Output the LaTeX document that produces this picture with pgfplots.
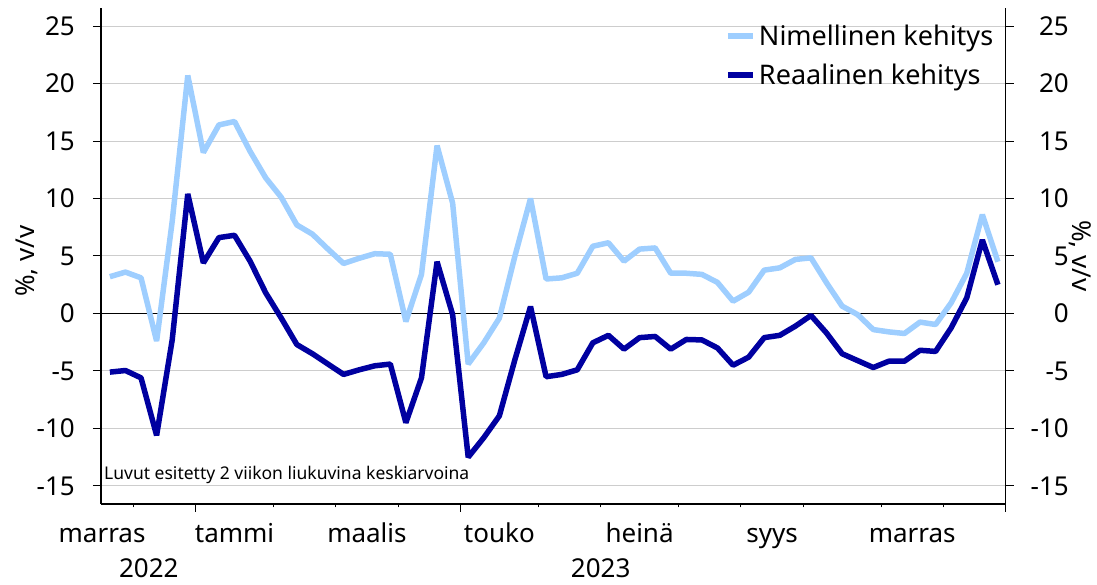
\documentclass[border=0pt]{standalone}
\usepackage{fontspec}
\setmainfont{Noto Sans}
\usepackage{pgfplots}
\pgfplotsset{compat=1.18}
\definecolor{nim}{RGB}{158,206,255}
\definecolor{real}{RGB}{0,0,160}
\definecolor{gridc}{RGB}{205,205,205}
\newcommand{\tickfont}{\fontsize{26}{30}\selectfont}
\begin{document}
\begin{tikzpicture}
\useasboundingbox (-101pt,-81pt) rectangle (996pt,504pt);
% grid + left y axis
\begin{axis}[
  scale only axis, width=904.7pt, height=496pt,
  xmin=-2.07, xmax=56, ymin=-16.57, ymax=26.57,
  axis x line=none, axis y line*=left,
  axis line style={line width=1.3pt, black},
  tick align=outside, major tick length=8pt,
  tick style={black, line width=1pt},
  ytick={-15,-10,...,25},
  yticklabels={-15,-10,-5,0,5,10,15,20,25},
  yticklabel style={anchor=east, inner sep=0pt, xshift=-18pt, font=\tickfont},
  ymajorgrids, grid style={gridc, line width=1pt},
  extra y ticks={0}, extra y tick labels={},
  extra y tick style={grid style={black, line width=1.3pt}},
  clip=false,
]
\node[rotate=90, font=\tickfont, anchor=center] at (axis description cs:-0.082,0.49) {\%, v/v};
\node[anchor=base west, inner sep=0pt, font=\fontsize{17.5}{20}\selectfont] at (axis description cs:0.0033,0.0484) {Luvut esitetty 2 viikon liukuvina keskiarvoina};
\end{axis}
% right y axis
\begin{axis}[
  scale only axis, width=904.7pt, height=496pt,
  xmin=-2.07, xmax=56, ymin=-16.57, ymax=26.57,
  axis x line=none, axis y line*=right,
  axis line style={line width=1.3pt, black},
  tick align=outside, major tick length=8pt,
  tick style={black, line width=1pt},
  ytick={-15,-10,...,25},
  yticklabels={-15,-10,-5,0,5,10,15,20,25},
  yticklabel style={anchor=east, inner sep=0pt, xshift=55.3pt, font=\tickfont},
  clip=false,
]
\node[rotate=-90, font=\tickfont, anchor=center] at (axis description cs:1.082,0.5) {\%, v/v};
\end{axis}
% data + x axis
\begin{axis}[
  scale only axis, width=904.7pt, height=496pt,
  xmin=-2.07, xmax=56, ymin=-16.57, ymax=26.57,
  axis y line=none, axis x line*=bottom,
  axis line style={line width=1.3pt, black},
  tick align=outside, major tick length=0pt, minor tick length=3.5pt,
  tick style={black, line width=1pt},
  xtick={-2,6.5,15,23.5,32.5,41,50},
  xticklabels={marras,tammi,maalis,touko,heinä,syys,marras},
  xticklabel style={anchor=base, inner sep=0pt, yshift=-39pt, font=\tickfont},
  minor xtick={0,4,9,13,17,21,26,30,35,39,43,48,52,56},
  extra x ticks={4,21,56}, extra x tick labels={},
  extra x tick style={major tick length=8pt},
  clip=false,
  legend style={draw=none, fill=none, at={(axis description cs:0.6895,0.972)}, anchor=north west,
    font=\fontsize{27}{30}\selectfont, row sep=11pt, inner sep=0pt,
    nodes={inner sep=3pt}},
  legend cell align=left,
  legend image code/.code={\draw[#1, line width=6pt] (0pt,0pt) -- (25pt,0pt);},
]
\addplot[nim, line width=5.5pt, line join=bevel] coordinates {
(-1.5,3.2)(-0.5,3.6)(0.5,3.1)(1.5,-2.4)(2.5,8.0)(3.5,20.7)(4.5,14.0)(5.5,16.4)(6.5,16.7)(7.5,14.1)
(8.5,11.8)(9.5,10.1)(10.5,7.7)(11.5,6.9)(12.5,5.6)(13.5,4.35)(14.5,4.8)(15.5,5.2)(16.5,5.15)(17.5,-0.7)
(18.5,3.4)(19.5,14.6)(20.5,9.6)(21.5,-4.4)(22.5,-2.55)(23.5,-0.4)(24.5,5.0)(25.5,10.0)(26.5,3.0)(27.5,3.1)
(28.5,3.5)(29.5,5.85)(30.5,6.15)(31.5,4.55)(32.5,5.6)(33.5,5.7)(34.5,3.5)(35.5,3.5)(36.5,3.4)(37.5,2.7)
(38.5,1.07)(39.5,1.85)(40.5,3.77)(41.5,3.97)(42.5,4.7)(43.5,4.84)(44.5,2.67)(45.5,0.64)(46.5,-0.1)(47.5,-1.4)
(48.5,-1.6)(49.5,-1.74)(50.5,-0.75)(51.5,-0.96)(52.5,0.93)(53.5,3.5)(54.5,8.6)(55.5,4.5)
};
\addlegendentry{Nimellinen kehitys}
\addplot[real, line width=5.5pt, line join=bevel] coordinates {
(-1.5,-5.1)(-0.5,-4.96)(0.5,-5.6)(1.5,-10.6)(2.5,-2.3)(3.5,10.4)(4.5,4.4)(5.5,6.6)(6.5,6.8)(7.5,4.55)
(8.5,1.8)(9.5,-0.4)(10.5,-2.7)(11.5,-3.5)(12.5,-4.4)(13.5,-5.3)(14.5,-4.9)(15.5,-4.55)(16.5,-4.4)(17.5,-9.5)
(18.5,-5.6)(19.5,4.5)(20.5,-0.1)(21.5,-12.5)(22.5,-10.8)(23.5,-8.9)(24.5,-4.0)(25.5,0.6)(26.5,-5.5)(27.5,-5.3)
(28.5,-4.9)(29.5,-2.55)(30.5,-1.9)(31.5,-3.1)(32.5,-2.1)(33.5,-2.0)(34.5,-3.1)(35.5,-2.26)(36.5,-2.3)(37.5,-3.0)
(38.5,-4.5)(39.5,-3.8)(40.5,-2.1)(41.5,-1.9)(42.5,-1.1)(43.5,-0.17)(44.5,-1.7)(45.5,-3.5)(46.5,-4.1)(47.5,-4.7)
(48.5,-4.15)(49.5,-4.15)(50.5,-3.2)(51.5,-3.3)(52.5,-1.25)(53.5,1.36)(54.5,6.4)(55.5,2.5)
};
\addlegendentry{Reaalinen kehitys}
\node[anchor=base, inner sep=0pt, font=\tickfont] at (axis cs:1,-16.57) [yshift=-74pt] {2022};
\node[anchor=base, inner sep=0pt, font=\tickfont] at (axis cs:30,-16.57) [yshift=-74pt] {2023};
\end{axis}
\end{tikzpicture}
\end{document}
